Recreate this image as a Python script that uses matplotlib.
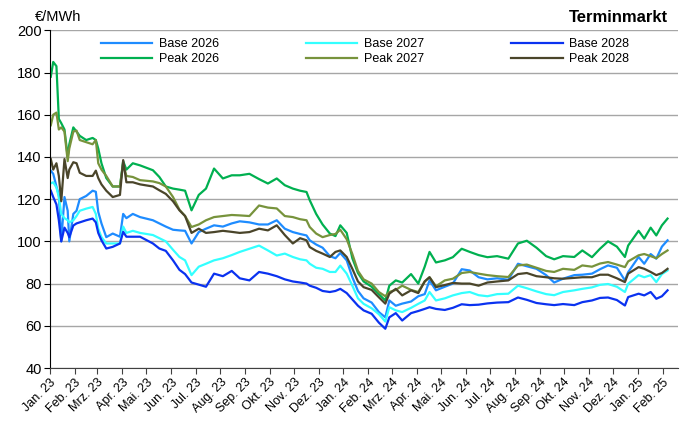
import matplotlib
matplotlib.use("Agg")
import matplotlib.pyplot as plt
import matplotlib.dates as mdates
import numpy as np

plt.rcParams['font.family'] = ['Liberation Sans', 'DejaVu Sans']

# Stichtage (Handelstage, ausgedünnt)
dates = [
    "2023-01-02", "2023-01-05", "2023-01-09", "2023-01-12", "2023-01-15", "2023-01-19",
    "2023-01-23", "2023-01-25", "2023-01-30", "2023-02-03", "2023-02-07", "2023-02-15",
    "2023-02-23", "2023-02-27", "2023-03-02", "2023-03-06", "2023-03-12", "2023-03-20",
    "2023-03-29", "2023-04-02", "2023-04-06", "2023-04-14", "2023-04-23", "2023-05-09",
    "2023-05-17", "2023-05-25", "2023-06-03", "2023-06-11", "2023-06-18", "2023-06-26",
    "2023-07-05", "2023-07-14", "2023-07-24", "2023-08-04", "2023-08-15", "2023-08-25",
    "2023-09-06", "2023-09-18", "2023-09-29", "2023-10-10", "2023-10-20", "2023-10-30",
    "2023-11-08", "2023-11-16", "2023-11-20", "2023-11-28", "2023-12-06", "2023-12-15",
    "2023-12-22", "2023-12-28",
    "2024-01-05", "2024-01-12", "2024-01-19", "2024-01-26", "2024-02-05", "2024-02-14",
    "2024-02-22", "2024-02-27", "2024-03-06", "2024-03-14", "2024-03-25", "2024-04-03",
    "2024-04-11", "2024-04-17", "2024-04-25", "2024-05-06", "2024-05-16", "2024-05-27",
    "2024-06-06", "2024-06-17", "2024-06-28", "2024-07-10", "2024-07-24", "2024-08-05",
    "2024-08-16", "2024-08-28", "2024-09-09", "2024-09-19", "2024-09-30", "2024-10-14",
    "2024-10-24", "2024-11-05", "2024-11-15", "2024-11-25", "2024-12-06", "2024-12-16",
    "2024-12-20",
    "2025-01-02", "2025-01-09", "2025-01-17", "2025-01-24", "2025-01-31", "2025-02-07",
]

base_2026 = [
    133.5, 132, 126, 122, 100, 121, 114.5, 100, 113, 114.5, 120, 121.5, 124, 123.5,
    114, 108.5, 102, 103.7, 102.2, 113, 111, 113, 111.5, 110, 108.5, 107, 105.5, 105.2,
    105, 99, 104.4, 106, 107.6, 107, 108.5, 109.5, 109, 108, 108, 110, 106, 104.4,
    103.5, 102.8, 100.5, 98.5, 97, 93, 92, 94.5,
    91, 83, 76.5, 73, 71, 66.5, 64, 72, 69.5, 70.5, 71.5, 74, 75, 81.5, 76.8, 78.5,
    80, 86.8, 86.2, 83, 82, 82.5, 81.8, 89.4, 88.2, 87, 84, 80.5, 82.3, 84, 84.2,
    84.7, 86.8, 88.6, 87.5, 81.5, 85.4,
    92.6, 89.4, 94, 91.8, 97.5, 100.5,
]
base_2027 = [
    127.5, 128, 125.5, 121, 113, 111, 110, 109, 110, 112, 114.5, 115.5, 116.3, 113,
    106, 102, 99, 99, 99, 107, 104, 105, 104, 103, 101.5, 100, 96, 92.6, 91, 84,
    88, 89.4, 91, 92, 93.5, 95, 96.5, 98, 95.7, 93.3, 94.2, 92.6, 91.5, 91, 89.4,
    87.5, 87, 85.5, 85.5, 88.5,
    84.7, 79, 73, 70.4, 68.3, 65.5, 62, 68.8, 67.3, 66.5, 68.5, 70.4, 72, 76, 72, 73,
    74.4, 75.5, 76, 74.5, 74, 75, 75.2, 79, 77.8, 76.3, 75, 74.5, 76, 76.8, 77.5,
    78.2, 79.4, 79.8, 78.5, 76, 79.9,
    84, 83, 84, 80.7, 84.5, 86.2,
]
base_2028 = [
    124, 121, 117.5, 110, 100, 106.5, 104, 102, 107.5, 108.5, 109, 110, 110.8, 109,
    104, 100.5, 96.6, 97.4, 99, 104.5, 102.2, 102.2, 102.2, 99, 96.6, 95.5, 91, 86.5,
    84.5, 80.5, 79.5, 78.5, 84.7, 83.5, 86, 82.5, 81.5, 85.5, 84.7, 83.5, 82, 81,
    80.5, 80, 79, 78, 76.5, 76, 76.5, 77.5,
    75.5, 72.5, 69.5, 67.3, 65.7, 61.5, 58.6, 64, 66, 62.5, 66, 67, 68, 68.8, 68, 67.5,
    68.5, 70.2, 69.8, 70, 70.6, 71, 71.2, 73.4, 72.3, 70.8, 70.2, 69.8, 70.3, 69.8,
    71.2, 72, 73.2, 73.4, 72.2, 69.6, 73.6,
    75.2, 74.4, 76, 72.8, 74, 76.8,
]
peak_2026 = [
    178, 185, 183, 158, 156, 153, 140, 146, 154, 152, 150, 148, 149, 148,
    144, 137, 130, 126, 126, 138, 134, 137, 136, 133.7, 130.5, 126, 125, 124.5,
    124, 114.7, 122, 125, 134.5, 129.8, 131.3, 131.3, 132, 129.5, 127.4, 129.8, 126.6,
    125, 124, 123.4, 119.5, 113, 108, 103.7, 102.5, 107.6,
    104, 92, 85, 81, 78.5, 75, 72, 79, 81.5, 80.5, 84.5, 80, 88, 95, 90, 91, 92.5,
    96.5, 95, 93.5, 92.5, 93, 91.8, 99, 100.3, 97, 93, 91.5, 93, 92.6, 95.7, 92.5,
    96.5, 100, 97.5, 92.6, 98,
    105, 101.3, 106.5, 102.8, 107.6, 110.8,
]
peak_2027 = [
    155, 160, 161, 153, 154, 152, 138, 144, 152, 152.5, 148, 147, 146, 148,
    137, 134, 131, 126, 126, 137, 131, 130.5, 129, 128.4, 127.6, 126, 121, 115,
    112, 106.8, 108, 110, 111.5, 112, 112.5, 112.3, 112, 117, 116, 115.6, 112, 111.5,
    110.5, 110, 106.8, 103.7, 102, 103, 103.5, 105.5,
    101, 94, 86, 82, 80, 76, 74, 76, 77, 79, 77, 76, 81, 83, 78.7, 81.5, 82.3, 85,
    85.5, 84.7, 84, 83.5, 83.1, 88.6, 89, 87.5, 86, 85.5, 87, 86.5, 88.6, 88, 89.5,
    90.2, 89, 87.8, 90.5,
    93.4, 94, 93, 92, 94, 95.7,
]
peak_2028 = [
    139, 134, 137, 131, 119, 139, 130, 134, 137.5, 137, 132.5, 131, 131, 133.5,
    130, 127, 124, 121, 122, 138.5, 128, 128, 127, 126, 124.2, 122.5, 119, 114.7,
    112, 104, 106, 104, 104.4, 105, 104.5, 104, 104.4, 106, 105.2, 107.6, 103, 99,
    101.5, 100.5, 97.3, 95.5, 94.2, 92.6, 95, 95.7,
    92.6, 87, 81, 78.3, 77, 73.5, 70.5, 75.2, 77.5, 74.4, 76.8, 75.5, 81, 83, 78.3,
    79.3, 80.3, 80, 80, 79, 80.5, 81, 81.5, 84.5, 85, 83.5, 83, 82.5, 82.3, 82.7,
    83, 83, 84.2, 84.2, 82.5, 80.7, 84.7,
    87.8, 87, 85.5, 84, 85, 87,
]

series = [
    ("Base 2026", base_2026, "#1E8CFF"),
    ("Base 2027", base_2027, "#33FFFF"),
    ("Base 2028", base_2028, "#0A32F0"),
    ("Peak 2026", peak_2026, "#00B050"),
    ("Peak 2027", peak_2027, "#77933C"),
    ("Peak 2028", peak_2028, "#4A452A"),
]

monate = ["Jan.", "Feb.", "Mrz.", "Apr.", "Mai.", "Jun.", "Jul.", "Aug.",
          "Sep.", "Okt.", "Nov.", "Dez."]


def monat_label(x, pos):
    d = mdates.num2date(x)
    return f"{monate[d.month - 1]} {d.year % 100:02d}"


x = np.array(dates, dtype="datetime64[D]")

fig = plt.figure(figsize=(6.88, 4.24), dpi=100)
ax = fig.add_axes([50 / 688, 56 / 424, 628 / 688, 337.7 / 424])

handles = {}
for name, values, color in series:
    line, = ax.plot(x, values, color=color, lw=1.6, label=name)
    handles[name] = line

ax.set_ylim(40, 200)
ax.set_yticks(np.arange(40, 201, 20))
ax.set_xlim(np.datetime64("2023-01-01"), np.datetime64("2025-02-20"))
ax.xaxis.set_major_locator(mdates.MonthLocator())
ax.xaxis.set_major_formatter(plt.FuncFormatter(monat_label))

ax.grid(axis="y", color="#A6A6A6", lw=1)
ax.set_axisbelow(True)
for s in ["top", "right"]:
    ax.spines[s].set_visible(False)
ax.spines["left"].set_color("black")
ax.spines["bottom"].set_color("#404040")
ax.tick_params(axis="y", labelsize=10.5, length=4, pad=2)
ax.tick_params(axis="x", labelsize=9, length=4, pad=2, color="#404040")
for lbl in ax.get_xticklabels():
    lbl.set_rotation(45)
    lbl.set_ha("right")
    lbl.set_rotation_mode("anchor")

# Legende: zeilenweise, daher Reihenfolge spaltenweise umsortiert
order = ["Base 2026", "Peak 2026", "Base 2027", "Peak 2027", "Base 2028", "Peak 2028"]
ax.legend([handles[n] for n in order], order, ncol=3, frameon=False,
          loc="upper left", bbox_to_anchor=(101 / 688, 1 - 38 / 424),
          bbox_transform=fig.transFigure, borderpad=0, borderaxespad=0,
          fontsize=9, handlelength=4.1, handletextpad=0.55,
          columnspacing=6.95, labelspacing=0.25)

fig.text(35 / 688, 1 - 17 / 424, "€/MWh", fontsize=10.5, va="center", ha="left")
fig.text(668 / 688, 1 - 17 / 424, "Terminmarkt", fontsize=12, fontweight="bold",
         va="center", ha="right")

fig.savefig("out.png", dpi=100)
